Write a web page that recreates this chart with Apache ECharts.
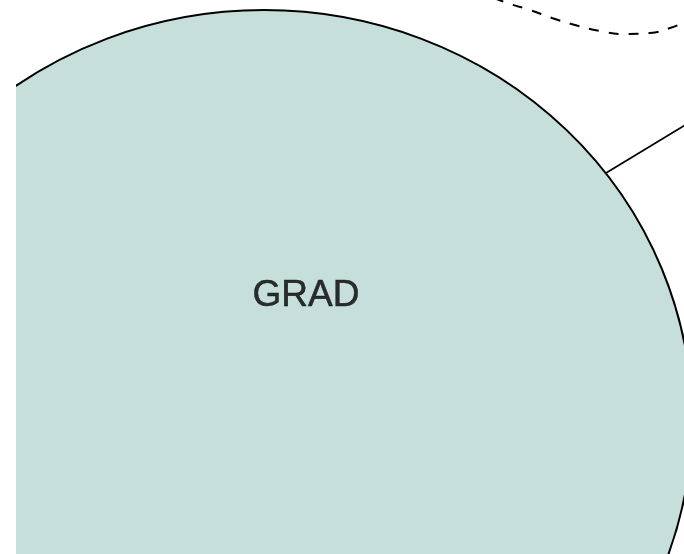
<!DOCTYPE html>
<html>
<head>
<meta charset="utf-8">
<script src="https://cdn.jsdelivr.net/npm/echarts@6/dist/echarts.min.js"></script>
<style>
  html, body { margin: 0; padding: 0; background: #fff; }
  #chart { width: 684px; height: 554px; }
</style>
</head>
<body>
<div id="chart"></div>
<script>
// node: centre [x, y] and radii [rx, ry] in picture units
const nodeCenter = [[264, 420]]
const nodeRadii = [428, 410]
const nodeLabel = 'GRAD'
const labelPos = [[306, 296]]

// solid edge leaving the node towards the upper right
const edgePoints = [[606, 173], [700, 116]]

// dashed edge along the top
const dashedPoints = [
  [494, -2], [510, 4], [530, 10], [552, 18], [575, 25],
  [600, 31], [625, 34], [650, 33], [670, 28], [692, 19]
]

const chart = echarts.init(document.getElementById('chart'))

function renderNode(params, api) {
  const c = api.coord([api.value(0), api.value(1)])
  const edge = api.coord([api.value(0) + nodeRadii[0], api.value(1) + nodeRadii[1]])
  return {
    type: 'circle',
    x: c[0],
    y: c[1],
    scaleX: edge[0] - c[0],
    scaleY: edge[1] - c[1],
    shape: { cx: 0, cy: 0, r: 1 },
    style: { fill: '#c6dfdb', stroke: '#000', lineWidth: 2, strokeNoScale: true }
  }
}

chart.setOption({
  animation: false,
  grid: { left: 16, right: 0, top: 0, bottom: 0 },
  xAxis: { type: 'value', min: 16, max: 684, show: false },
  yAxis: { type: 'value', min: 0, max: 554, inverse: true, show: false },
  series: [
    {
      type: 'custom',
      data: nodeCenter,
      renderItem: renderNode,
      clip: true,
      silent: true,
      z: 1
    },
    {
      type: 'line',
      data: edgePoints,
      symbol: 'none',
      clip: true,
      lineStyle: { color: '#000', width: 1.8 },
      z: 2
    },
    {
      type: 'line',
      data: dashedPoints,
      smooth: true,
      symbol: 'none',
      clip: true,
      lineStyle: { color: '#000', width: 2, type: [10, 10] },
      z: 2
    },
    {
      type: 'scatter',
      data: labelPos,
      symbolSize: 0,
      silent: true,
      label: {
        show: true,
        position: 'inside',
        formatter: nodeLabel,
        color: '#000',
        textBorderColor: '#000',
        textBorderWidth: 0.5,
        fontSize: 37,
        fontFamily: 'Liberation Sans, Arial, sans-serif'
      },
      z: 3
    }
  ]
})
</script>
</body>
</html>
